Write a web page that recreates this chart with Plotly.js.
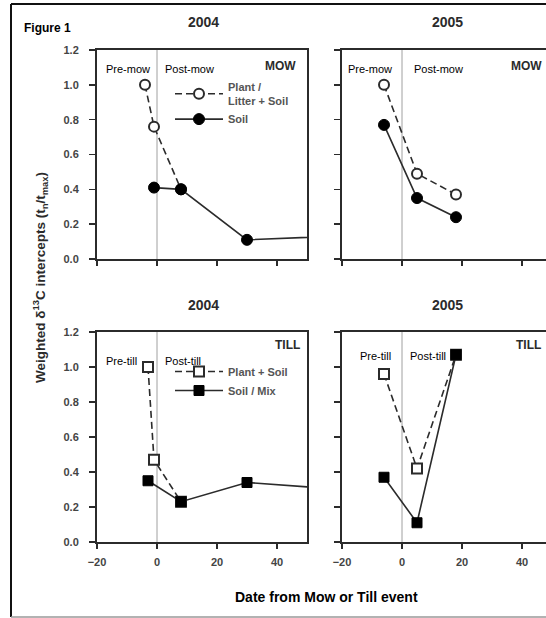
<!DOCTYPE html>
<html>
<head>
<meta charset="utf-8">
<script src="https://cdn.plot.ly/plotly-3.0.1.min.js"></script>
<style>html,body{margin:0;padding:0;background:#fff;}#chart{width:546px;height:618px;}</style>
</head>
<body>
<div id="chart"></div>
<script>
// ---- Data (days from event, weighted intercepts) ----
const mow2004PlantDays = [-4, -1, 8];
const mow2004PlantVals = [1.0, 0.76, 0.40];
const mow2004SoilDays  = [-1, 8, 30, 65];
const mow2004SoilVals  = [0.41, 0.40, 0.11, 0.135];

const mow2005Days      = [-6, 5, 18];
const mow2005PlantVals = [1.0, 0.49, 0.37];
const mow2005SoilVals  = [0.77, 0.35, 0.24];

const till2004PlantDays = [-3, -1, 8];
const till2004PlantVals = [1.0, 0.47, 0.23];
const till2004SoilDays  = [-3, 8, 30, 70];
const till2004SoilVals  = [0.35, 0.23, 0.34, 0.29];

const till2005Days      = [-6, 5, 18];
const till2005PlantVals = [0.96, 0.42, 1.07];
const till2005SoilVals  = [0.37, 0.11, 1.07];

const yTicks = [0, 0.2, 0.4, 0.6, 0.8, 1.0, 1.2];
const xTicks = [-20, 0, 20, 40];
const legendMow  = ['Plant /<br>Litter + Soil', 'Soil'];
const legendTill = ['Plant + Soil', 'Soil / Mix'];

// ---- Layout helpers ----
const W = 546, H = 618;
const px = v => v / W;
const py = v => 1 - v / H;
const INK = '#2b2b2b';
const FONT = 'Liberation Sans, Arial, sans-serif';

function openTrace(x, y, sym, xa, ya, name, legend, showlegend) {
  return {x, y, xaxis: xa, yaxis: ya, name, legend, showlegend, mode: 'lines+markers', type: 'scatter',
    line: {color: INK, width: 1.6, dash: '7px,4px'},
    marker: {symbol: sym, size: 10, color: '#fff', line: {color: INK, width: 2}}};
}
function filledTrace(x, y, sym, xa, ya, name, legend, showlegend) {
  return {x, y, xaxis: xa, yaxis: ya, name, legend, showlegend, mode: 'lines+markers', type: 'scatter',
    line: {color: INK, width: 1.6},
    marker: {symbol: sym, size: sym === 'square' ? 10 : 11, color: '#000', line: {color: '#000', width: 1}}};
}

const data = [
  openTrace(mow2004PlantDays, mow2004PlantVals, 'circle', 'x', 'y', legendMow[0], 'legend', true),
  filledTrace(mow2004SoilDays, mow2004SoilVals, 'circle', 'x', 'y', legendMow[1], 'legend', true),
  openTrace(mow2005Days, mow2005PlantVals, 'circle', 'x2', 'y2', legendMow[0], 'legend', false),
  filledTrace(mow2005Days, mow2005SoilVals, 'circle', 'x2', 'y2', legendMow[1], 'legend', false),
  openTrace(till2004PlantDays, till2004PlantVals, 'square', 'x3', 'y3', legendTill[0], 'legend2', true),
  filledTrace(till2004SoilDays, till2004SoilVals, 'square', 'x3', 'y3', legendTill[1], 'legend2', true),
  openTrace(till2005Days, till2005PlantVals, 'square', 'x4', 'y4', legendTill[0], 'legend2', false),
  filledTrace(till2005Days, till2005SoilVals, 'square', 'x4', 'y4', legendTill[1], 'legend2', false)
];

const tickFont = {family: FONT, size: 11, color: '#444', weight: 'bold'};
function xaxis(domain, range, labels, anchor) {
  return {domain, range, anchor, tickvals: xTicks, showticklabels: labels, ticks: 'outside', ticklen: 5,
    tickwidth: 1.5, tickcolor: INK, showline: true, linecolor: INK, linewidth: 2, mirror: true,
    showgrid: false, zeroline: false, tickfont: tickFont, ticklabelstandoff: 4, fixedrange: true};
}
function yaxis(domain, labels, anchor) {
  return {domain, range: [0, 1.2], anchor, tickvals: yTicks, tickformat: '.1f', showticklabels: labels,
    ticks: 'outside', ticklen: 6, tickwidth: 1.5, tickcolor: INK, showline: true, linecolor: INK, linewidth: 2,
    mirror: true, showgrid: false, zeroline: false, tickfont: tickFont, ticklabelstandoff: 8, fixedrange: true};
}

const dL = [px(97), px(307)], dR = [px(342), 1];
const dT = [py(259), py(50)], dB = [py(542), py(332)];
const rL = [-20, 50], rR = [-20, -20 + (546 - 342) / 210 * 70];

function ann(text, x, y, opts) {
  return Object.assign({text, x: px(x), y: py(y), xref: 'paper', yref: 'paper', showarrow: false,
    font: {family: FONT, size: 11, color: '#000'}, xanchor: 'center', yanchor: 'middle'}, opts || {});
}
const bold = (size, color) => ({family: FONT, size, color: color || INK, weight: 'bold'});

const annotations = [
  ann('Figure 1', 22, 28, {xanchor: 'left', font: bold(12, '#000')}),
  ann('2004', 203, 22, {font: bold(14)}),
  ann('2005', 447, 22, {font: bold(14)}),
  ann('2004', 203, 305, {font: bold(14)}),
  ann('2005', 447, 305, {font: bold(14)}),
  ann('Pre-mow', 128, 69),
  ann('Post-mow', 163, 69, {xanchor: 'left'}),
  ann('MOW', 298, 66, {xanchor: 'right', font: bold(12)}),
  ann('Pre-mow', 370, 69),
  ann('Post-mow', 412, 69, {xanchor: 'left'}),
  ann('MOW', 509, 66, {xanchor: 'left', font: bold(12)}),
  ann('Pre-till', 121, 361),
  ann('Post-till', 163, 361, {xanchor: 'left'}),
  ann('TILL', 302, 345, {xanchor: 'right', font: bold(12)}),
  ann('Pre-till', 375, 356),
  ann('Post-till', 408, 356, {xanchor: 'left'}),
  ann('TILL', 514, 345, {xanchor: 'left', font: bold(12)}),
  ann('Weighted \u03b4<sup>13</sup>C intercepts (t<sub>n</sub>/t<sub>max</sub>)', 40, 278,
      {textangle: -90, font: bold(13.5)}),
  ann('Date from Mow or Till event', 326, 597, {font: bold(14, '#000')})
];

const vline = (xr, yr) => ({type: 'line', xref: xr, yref: yr + ' domain', x0: 0, x1: 0, y0: 0, y1: 1,
  line: {color: '#a0a0a0', width: 1}, layer: 'below'});
const shapes = [
  vline('x', 'y'), vline('x2', 'y2'), vline('x3', 'y3'), vline('x4', 'y4'),
  {type: 'line', xref: 'paper', yref: 'paper', x0: px(11), x1: 1.02, y0: py(4), y1: py(4), line: {color: '#111', width: 2}},
  {type: 'line', xref: 'paper', yref: 'paper', x0: px(11), x1: px(11), y0: py(4), y1: py(617), line: {color: '#111', width: 2}},
  {type: 'line', xref: 'paper', yref: 'paper', x0: px(11), x1: 1.02, y0: py(617), y1: py(617), line: {color: '#999', width: 1.5}}
];

const legendFont = {family: FONT, size: 11, color: '#555', weight: 'bold'};
const layout = {
  width: W, height: H, margin: {l: 0, r: 0, t: 0, b: 0},
  paper_bgcolor: '#fff', plot_bgcolor: '#fff',
  xaxis: xaxis(dL, rL, false, 'y'),
  yaxis: yaxis(dT, true, 'x'),
  xaxis2: xaxis(dR, rR, false, 'y2'),
  yaxis2: yaxis(dT, false, 'x2'),
  xaxis3: xaxis(dL, rL, true, 'y3'),
  yaxis3: yaxis(dB, true, 'x3'),
  xaxis4: xaxis(dR, rR, true, 'y4'),
  yaxis4: yaxis(dB, false, 'x4'),
  legend: {x: px(170), y: py(73), xanchor: 'left', yanchor: 'top', bgcolor: 'rgba(0,0,0,0)',
    font: legendFont, tracegroupgap: 0, itemwidth: 48},
  legend2: {x: px(170), y: py(357), xanchor: 'left', yanchor: 'top', bgcolor: 'rgba(0,0,0,0)',
    font: legendFont, tracegroupgap: 0, itemwidth: 48},
  showlegend: true,
  annotations, shapes
};

Plotly.newPlot('chart', data, layout, {displayModeBar: false, staticPlot: true});
</script>
</body>
</html>
